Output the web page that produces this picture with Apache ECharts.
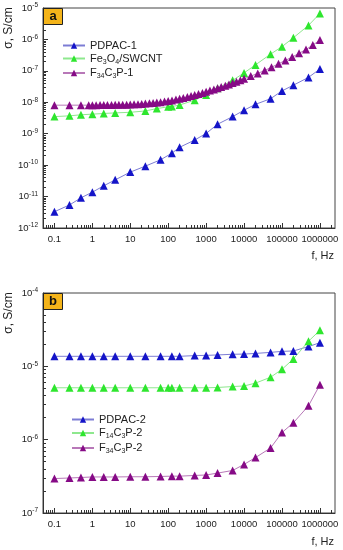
<!DOCTYPE html>
<html><head><meta charset="utf-8">
<script src="https://cdn.jsdelivr.net/npm/echarts@6/dist/echarts.min.js"></script>
<style>html,body{margin:0;padding:0;background:#fff}#c{width:343px;height:550px}</style>
</head><body><div id="c"></div>
<script>
// ---- Panel a ----
const freqPDPAC1 = [0.1,0.25,0.5,1,2,4,10,25,63,125,200,500,1000,2000,5000,10000,20000,50000,100000,200000,500000,1000000];
const pdpac1 = [3.3e-12,5.4e-12,9.1e-12,1.38e-11,2.2e-11,3.4e-11,6.0e-11,9.3e-11,1.48e-10,2.4e-10,3.7e-10,6.3e-10,1.02e-9,2.0e-9,3.5e-9,5.6e-9,8.6e-9,1.3e-8,2.3e-8,3.5e-8,6.2e-8,1.15e-7];
const freqFe = [0.1,0.25,0.5,1,2,4,10,25,50,100,125,200,500,1000,2000,5000,10000,20000,50000,100000,200000,500000,1000000];
const fe3o4 = [3.5e-9,3.7e-9,4.0e-9,4.2e-9,4.4e-9,4.6e-9,4.8e-9,5.3e-9,6.3e-9,7.2e-9,7.3e-9,8.2e-9,1.17e-8,1.7e-8,2.8e-8,5.0e-8,8.6e-8,1.55e-7,3.4e-7,5.9e-7,1.13e-6,2.8e-6,6.7e-6];
const freqF34a = [0.1,0.25,0.5,0.8,1,1.26,1.6,2,2.5,3.2,4,5,6.3,8,10,12.6,16,20,25,32,40,50,63,80,100,126,160,200,250,320,400,500,630,800,1000,1260,1600,2000,2500,3200,4000,5000,6300,8000,10000,15000,23000,35000,53000,81000,123000,186000,282000,430000,650000,1000000];
const f34c3p1 = [8.1e-9,8.1e-9,8.1e-9,8.1e-9,8.1e-9,8.1e-9,8.2e-9,8.2e-9,8.2e-9,8.2e-9,8.3e-9,8.3e-9,8.4e-9,8.4e-9,8.5e-9,8.6e-9,8.7e-9,8.9e-9,9.1e-9,9.3e-9,9.5e-9,9.8e-9,1.01e-8,1.05e-8,1.1e-8,1.15e-8,1.22e-8,1.3e-8,1.38e-8,1.48e-8,1.58e-8,1.7e-8,1.83e-8,1.97e-8,2.15e-8,2.35e-8,2.55e-8,2.8e-8,3.05e-8,3.35e-8,3.7e-8,4.1e-8,4.5e-8,5.0e-8,5.6e-8,6.8e-8,8.3e-8,1.03e-7,1.3e-7,1.68e-7,2.15e-7,2.75e-7,3.6e-7,4.8e-7,6.6e-7,9.6e-7];
// ---- Panel b ----
const freqB = [0.1,0.25,0.5,1,2,4,10,25,63,125,200,500,1000,2000,5000,10000,20000,50000,100000,200000,500000,1000000];
const pdpac2 = [1.37e-5,1.37e-5,1.37e-5,1.37e-5,1.37e-5,1.37e-5,1.37e-5,1.37e-5,1.37e-5,1.37e-5,1.37e-5,1.40e-5,1.41e-5,1.43e-5,1.46e-5,1.47e-5,1.50e-5,1.55e-5,1.60e-5,1.62e-5,1.86e-5,2.1e-5];
const freqF14 = [0.1,0.25,0.5,1,2,4,10,25,63,100,125,200,500,1000,2000,5000,10000,20000,50000,100000,200000,500000,1000000];
const f14c3p2 = [5.1e-6,5.1e-6,5.1e-6,5.1e-6,5.1e-6,5.1e-6,5.1e-6,5.1e-6,5.1e-6,5.1e-6,5.1e-6,5.1e-6,5.1e-6,5.1e-6,5.15e-6,5.3e-6,5.4e-6,5.9e-6,7.1e-6,9.1e-6,1.26e-5,2.2e-5,3.1e-5];
const f34c3p2 = [2.95e-7,3.0e-7,3.05e-7,3.1e-7,3.1e-7,3.1e-7,3.12e-7,3.12e-7,3.15e-7,3.18e-7,3.18e-7,3.25e-7,3.3e-7,3.5e-7,3.8e-7,4.6e-7,5.7e-7,7.7e-7,1.25e-6,1.7e-6,2.9e-6,5.6e-6];
// ---- ticks ----
const xTickValues = [0.1,1,10,100,1000,10000,100000,1000000];
const xTickLabels = ['0.1','1','10','100','1000','10000','100000','1000000'];
const yTicksA = [1e-12,1e-11,1e-10,1e-9,1e-8,1e-7,1e-6,1e-5];
const yTicksB = [1e-7,1e-6,1e-5,1e-4];

const FONT = 'Liberation Sans, Arial, sans-serif';
const AX = '#333';
function minors(lo, hi){ const r=[]; for(let e=lo;e<=hi;e++){ for(let k=2;k<=9;k++){ r.push(+(k*Math.pow(10,e)).toPrecision(3)); } } return r; }
const xMinor = minors(-2,6).filter(v=>v>0.05 && v<2.5e6);

function xAxesFor(g){
  return [{
    type:'log', gridIndex:g, min:0.05, max:2.5e6, position:'bottom',
    axisLine:{show:true,lineStyle:{color:AX,width:1}},
    axisTick:{show:true,inside:true,length:5,customValues:xTickValues,lineStyle:{color:AX}},
    axisLabel:{customValues:xTickValues,fontSize:9.5,color:'#222',fontFamily:FONT,margin:6,
      formatter:v=>xTickLabels[Math.round(Math.log10(v))+1]},
    splitLine:{show:false}
  },{
    type:'log', gridIndex:g, min:0.05, max:2.5e6, position:'bottom',
    axisLine:{show:false}, axisLabel:{show:false}, splitLine:{show:false},
    axisTick:{show:true,inside:true,length:3,customValues:xMinor,lineStyle:{color:AX}}
  }];
}
function yAxesFor(g, lo, hi, ticks){
  const mn = minors(Math.round(Math.log10(lo)), Math.round(Math.log10(hi))-1);
  return [{
    type:'log', gridIndex:g, min:lo, max:hi, position:'left',
    axisLine:{show:true,lineStyle:{color:AX,width:1}},
    axisTick:{show:true,inside:true,length:5,customValues:ticks,lineStyle:{color:AX}},
    axisLabel:{customValues:ticks,margin:5,color:'#222',fontFamily:FONT,
      formatter:v=>'{b|10}{s|'+Math.round(Math.log10(v))+'}',
      rich:{b:{fontSize:9.5,fontFamily:FONT,color:'#222',lineHeight:12},
            s:{fontSize:6.5,fontFamily:FONT,color:'#222',lineHeight:7,verticalAlign:'top'}}},
    splitLine:{show:false}
  },{
    type:'log', gridIndex:g, min:lo, max:hi, position:'left',
    axisLine:{show:false}, axisLabel:{show:false}, splitLine:{show:false},
    axisTick:{show:true,inside:true,length:3,customValues:mn,lineStyle:{color:AX}}
  }];
}
const C = {
  blue:{m:'#1414c8', l:'#7c7cd4'},
  green:{m:'#2ee62e', l:'#8ee88e'},
  purple:{m:'#860a86', l:'#b878b8'}
};
function ser(name, fx, fy, col, xi, yi){
  return {name, type:'line', xAxisIndex:xi, yAxisIndex:yi,
    data: fx.map((f,i)=>[f, fy[i]]),
    symbol:'triangle', symbolSize:8,
    itemStyle:{color:col.m}, lineStyle:{color:col.l,width:1},
    emphasis:{disabled:true}, animation:false};
}
const richLeg = {
  n:{fontSize:11,fontFamily:FONT,color:'#222',lineHeight:14},
  s:{fontSize:7,fontFamily:FONT,color:'#222',lineHeight:8,verticalAlign:'bottom'}
};
const legNames = {
  'PDPAC-1':'{n|PDPAC-1}',
  'Fe3O4/SWCNT':'{n|Fe}{s|3}{n|O}{s|4}{n|/SWCNT}',
  'F34C3P-1':'{n|F}{s|34}{n|C}{s|3}{n|P-1}',
  'PDPAC-2':'{n|PDPAC-2}',
  'F14C3P-2':'{n|F}{s|14}{n|C}{s|3}{n|P-2}',
  'F34C3P-2':'{n|F}{s|34}{n|C}{s|3}{n|P-2}'
};
const chart = echarts.init(document.getElementById('c'), null, {renderer:'canvas'});
chart.setOption({
  animation:false,
  backgroundColor:'#fff',
  grid:[
    {left:43, top:8, width:292, height:220, show:true, borderColor:'#444', borderWidth:1, backgroundColor:'transparent'},
    {left:43, top:293, width:292, height:220, show:true, borderColor:'#444', borderWidth:1, backgroundColor:'transparent'}
  ],
  xAxis:[...xAxesFor(0), ...xAxesFor(1)],
  yAxis:[...yAxesFor(0,1e-12,1e-5,yTicksA), ...yAxesFor(1,1e-7,1e-4,yTicksB)],
  legend:[
    {data:['PDPAC-1','Fe3O4/SWCNT','F34C3P-1'], orient:'vertical', left:57, top:35, itemGap:2,
     itemWidth:22, itemHeight:8, selectedMode:false, formatter:n=>legNames[n], textStyle:{rich:richLeg}},
    {data:['PDPAC-2','F14C3P-2','F34C3P-2'], orient:'vertical', left:66, top:409, itemGap:2.5,
     itemWidth:22, itemHeight:8, selectedMode:false, formatter:n=>legNames[n], textStyle:{rich:richLeg}}
  ],
  series:[
    ser('PDPAC-1', freqPDPAC1, pdpac1, C.blue, 0, 0),
    ser('Fe3O4/SWCNT', freqFe, fe3o4, C.green, 0, 0),
    ser('F34C3P-1', freqF34a, f34c3p1, C.purple, 0, 0),
    ser('PDPAC-2', freqB, pdpac2, C.blue, 2, 2),
    ser('F14C3P-2', freqF14, f14c3p2, C.green, 2, 2),
    ser('F34C3P-2', freqB, f34c3p2, C.purple, 2, 2)
  ],
  graphic:[
    {type:'rect', shape:{x:43.5,y:8.5,width:19,height:16}, style:{fill:'#F4B41A',stroke:'#222',lineWidth:1}, z:10},
    {type:'text', x:53, y:16.5, style:{text:'a',font:'bold 13px '+FONT,fill:'#111',align:'center',verticalAlign:'middle'}, z:11},
    {type:'rect', shape:{x:43.5,y:293.5,width:19,height:16}, style:{fill:'#F4B41A',stroke:'#222',lineWidth:1}, z:10},
    {type:'text', x:53, y:301.5, style:{text:'b',font:'bold 13px '+FONT,fill:'#111',align:'center',verticalAlign:'middle'}, z:11},
    {type:'text', x:9, y:28, rotation:Math.PI/2, style:{text:'σ, S/cm',font:'12px '+FONT,fill:'#222',align:'center',verticalAlign:'middle'}},
    {type:'text', x:9, y:313, rotation:Math.PI/2, style:{text:'σ, S/cm',font:'12px '+FONT,fill:'#222',align:'center',verticalAlign:'middle'}},
    {type:'text', x:334, y:256, style:{text:'f, Hz',font:'11px '+FONT,fill:'#222',align:'right',verticalAlign:'middle'}},
    {type:'text', x:334, y:542, style:{text:'f, Hz',font:'11px '+FONT,fill:'#222',align:'right',verticalAlign:'middle'}}
  ]
});
</script></body></html>
